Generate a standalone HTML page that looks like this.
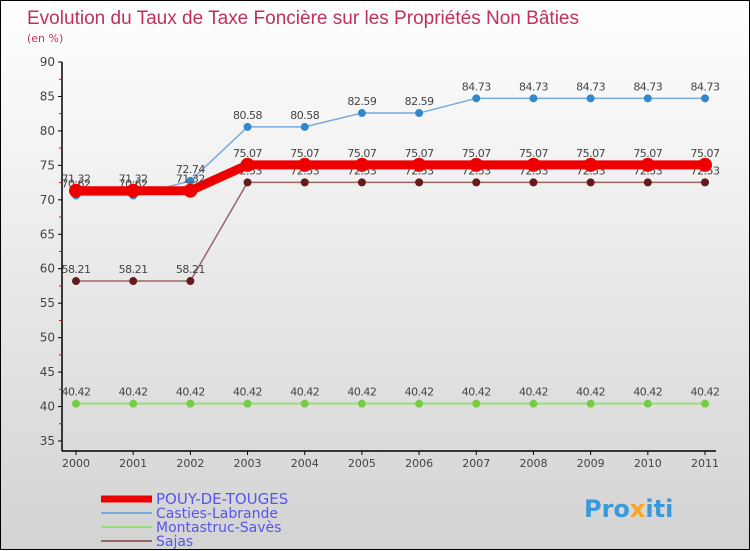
<!DOCTYPE html>
<html><head><meta charset="utf-8"><style>
html,body{margin:0;padding:0}
body{width:750px;height:550px;overflow:hidden;font-family:"DejaVu Sans","Liberation Sans",sans-serif}
#wrap{position:relative;width:748px;height:548px;border:1px solid #000;background:linear-gradient(#ffffff,#d3d3d3)}
svg{position:absolute;left:0;top:0}
</style></head><body>
<div id="wrap">
<svg id="chart" width="750" height="550">
<text x="26" y="23" font-size="19" fill="#c0305a" font-family="Liberation Sans, sans-serif" textLength="552">Evolution du Taux de Taxe Foncière sur les Propriétés Non Bâties</text>
<text x="26" y="41" font-size="11" fill="#c0305a">(en %)</text>
<g id="axes"></g><g id="series"></g><g id="legend"></g>
<text x="583" y="516" font-size="24" font-weight="bold" fill="#3a9ad9">Pro<tspan fill="#f5a623">x</tspan>iti</text>
</svg>
</div>
<script>
const years=[2000,2001,2002,2003,2004,2005,2006,2007,2008,2009,2010,2011];
const yTicks=[35,40,45,50,55,60,65,70,75,80,85,90];
const pouy=[71.32,71.32,71.32,75.07,75.07,75.07,75.07,75.07,75.07,75.07,75.07,75.07];
const casties=[70.62,70.62,72.74,80.58,80.58,82.59,82.59,84.73,84.73,84.73,84.73,84.73];
const montastruc=[40.42,40.42,40.42,40.42,40.42,40.42,40.42,40.42,40.42,40.42,40.42,40.42];
const sajas=[58.21,58.21,58.21,72.53,72.53,72.53,72.53,72.53,72.53,72.53,72.53,72.53];
const names=["POUY-DE-TOUGES","Casties-Labrande","Montastruc-Savès","Sajas"];
const NS="http://www.w3.org/2000/svg";
const xS=i=>75+i*(704-75)/(years.length-1);
const yS=v=>61+(90-v)*(440-61)/55;
function mk(t,a,p){const e=document.createElementNS(NS,t);for(const k in a)e.setAttribute(k,a[k]);p.appendChild(e);return e;}
const ax=document.getElementById('axes');
let l=mk('line',{x1:61,y1:61,x2:61,y2:450,stroke:'#000','stroke-width':1.5},ax);


l=mk('line',{x1:61,y1:450,x2:715,y2:450,stroke:'#000','stroke-width':1.5},ax);


yTicks.forEach(v=>{
 mk('line',{x1:57,y1:yS(v),x2:61,y2:yS(v),stroke:'#000'},ax);
 if(v<90)mk('line',{x1:58,y1:yS(v+2.5),x2:61,y2:yS(v+2.5),stroke:'#e00'},ax);
 const t=mk('text',{x:54,y:yS(v)+4,'text-anchor':'end','font-size':12,fill:'#444'},ax);
 t.textContent=v;
 
 
});
years.forEach((y,i)=>{
 mk('line',{x1:xS(i),y1:450,x2:xS(i),y2:454,stroke:'#000'},ax);
 const t=mk('text',{x:xS(i),y:466,'text-anchor':'middle','font-size':11,fill:'#444'},ax);
 t.textContent=y;
 
 
});
const sg=document.getElementById('series');
const defs=[
 {d:montastruc,c:'#99dd77',w:2,r:4,f:'#77cc44',n:'montastruc-saves'},
 {d:sajas,c:'#996666',w:1.5,r:4,f:'#661a1a',n:'sajas'},
 {d:casties,c:'#77aadd',w:1.5,r:4,f:'#3388cc',n:'casties-labrande'},
 {d:pouy,c:'#ee0000',w:9,r:7,f:'#ee0000',n:'pouy-de-touges'}
];
defs.forEach(s=>{
 const g=mk('g',{},sg);
 
 
 const p=mk('polyline',{points:s.d.map((v,i)=>xS(i)+','+yS(v)).join(' '),fill:'none',stroke:s.c,'stroke-width':s.w},g);
 
 
 s.d.forEach((v,i)=>{
  const c=mk('circle',{cx:xS(i),cy:yS(v),r:s.r,fill:s.f},g);
  
  
  const t=mk('text',{x:xS(i),y:yS(v)-8,'text-anchor':'middle','font-size':11,fill:'#444','letter-spacing':'-0.5'},g);
  t.textContent=v;
  
  
 });
});
const lg=document.getElementById('legend');
const lc=['#ee0000','#77aadd','#99dd77','#996666'],lw=[7,2,2,2];
names.forEach((n,i)=>{
 const y=494+i*14;
 const g=mk('g',{},lg);
 
 
 mk('line',{x1:100,y1:y+4,x2:151,y2:y+4,stroke:lc[i],'stroke-width':lw[i]},g);
 const t=mk('text',{x:155,y:y+9,'font-size':i==0?15:14,fill:'#5555ee'},g);
 t.textContent=n;
});
</script>
</body></html>
